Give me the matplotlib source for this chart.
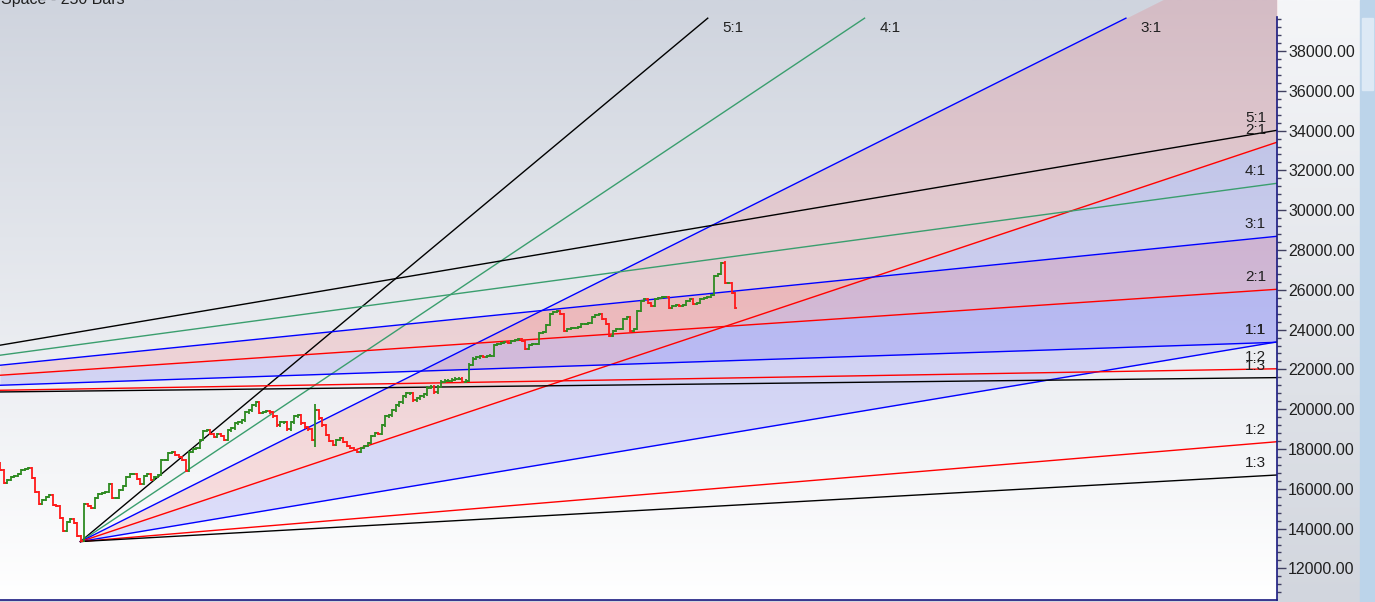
import numpy as np
import matplotlib.pyplot as plt
from matplotlib.colors import LinearSegmentedColormap
from matplotlib.patches import Rectangle

plt.rcParams['font.family'] = ['Liberation Sans', 'DejaVu Sans']

# closing prices, one per bar
closes = [
    16940, 16290, 16440, 16590, 16640, 16740, 16940, 16990, 17040, 16540,
    15840, 15240, 15440, 15590, 15690, 15190, 15140, 14540, 13890, 14340,
    14490, 14290, 13640, 13390,
    15240, 15140, 15040, 15540, 15740, 15790, 15840, 16240, 15540, 15540,
    15940, 16140, 16590, 16740, 16740, 16490, 16240, 16640, 16740, 16440,
    16590, 16690, 17440, 17440, 17790, 17840, 17690, 17590, 17440, 16890,
    17840, 17990, 18040, 18440, 18890, 18940, 18740, 18590, 18740, 18640,
    18440, 18940, 19040, 19290, 19340, 19440, 19840, 19940, 20190, 20340,
    19800, 19850, 19900, 19840, 19640, 19190, 19340, 19340, 18990, 19340,
    19640, 19690, 19290, 19090, 18990, 18440,
    19940, 19540, 19190, 18690, 18390, 18190, 18440, 18540, 18340, 18140,
    18040, 17940, 17840, 18040, 18140, 18290, 18640, 18790, 18740, 19190,
    19640, 19690, 19940, 20190, 20340, 20640, 20790, 20790, 20440, 20540,
    20640, 20740, 21090, 21140, 20840, 21140, 21390, 21440, 21440, 21490,
    21540, 21540, 21390, 21440, 22240, 22540, 22600, 22660, 22620, 22680,
    22690, 23240, 23290, 23320, 23360, 23340, 23440, 23490, 23540, 23440,
    23040, 23240, 23290, 23290, 23840, 23890, 24240, 24790, 24890, 24940,
    24790, 23940, 24040, 24090, 24090, 24140, 24290, 24290, 24340, 24640,
    24740, 24790, 24540, 24290, 23690, 23940, 24040, 24040, 24540, 24640,
    23940, 24040, 24940, 25440, 25540, 25340, 25190, 25540, 25590, 25640,
    25640, 25090, 25190, 25240, 25190, 25240, 25440, 25540, 25290, 25340,
    25540, 25590, 25640, 25740, 26690, 26790, 27340, 26340, 26340, 25840,
    25090,
]
first_open = 17300
wick = 60
spike_bars = [23, 90, 207]
spike_highs = [13700, 20250, 27450]
spike_lows = [13350, 18100, 26300]

# gann fans
fan_names = ['5:1', '4:1', '3:1', '2:1', '1:1', '1:2', '1:3']
fan_ratios = [5, 4, 3, 2, 1, 1 / 2, 1 / 3]
fan_colors = ['#000000', '#3a9e6e', '#0000ff', '#ff0000', '#0000ff', '#ff0000', '#000000']
fan1_bar, fan1_price, fan1_unit = 23, 13350, 29.35
fan2_bar, fan2_price, fan2_unit = -85, 20700, 5.92

y_ticks = list(range(12000, 38001, 2000))
title = "Space - 250 Bars"

W, H = 1375, 602
fig = plt.figure(figsize=(W / 100, H / 100), dpi=100)

# background (axis strip) gradient + scrollbar
bg = fig.add_axes([0, 0, 1, 1], zorder=-5)
bg.axis('off')
cm_strip = LinearSegmentedColormap.from_list('strip', ['#d2d6de', '#f5f6f8'])
bg.imshow(np.linspace(0, 1, 256).reshape(-1, 1), cmap=cm_strip, aspect='auto',
          extent=[0, 1, 0, 1])
bg.set_xlim(0, 1)
bg.set_ylim(1, 0)
bg.add_patch(Rectangle((1360 / W, 0), 15 / W, 1, color='#bcd4ea'))
bg.add_patch(Rectangle((1362 / W, 18 / H), 11 / W, 72 / H, color='#dde9f5'))

ax = fig.add_axes([0, 2 / H, 1277 / W, 600 / H])
xmin, xmax = 0, 1277 / 3.5
ymin, ymax = 10413, 40563
line_top = 39650

cm_plot = LinearSegmentedColormap.from_list('plot', ['#ffffff', '#cfd4de'])
ax.imshow(np.linspace(0, 1, 256).reshape(-1, 1), cmap=cm_plot, aspect='auto',
          extent=[xmin, xmax, ymin, ymax], origin='lower', zorder=0)


def draw_fan(bar0, price0, unit):
    xs = np.linspace(max(bar0, xmin), xmax, 400)
    lines = {r: price0 + unit * r * (xs - bar0) for r in fan_ratios}
    ax.fill_between(xs, lines[2], lines[3], color='#ff0000', alpha=0.11, lw=0, zorder=1)
    ax.fill_between(xs, lines[1], lines[2], color='#0000ff', alpha=0.11, lw=0, zorder=1)
    for name, r, col in zip(fan_names, fan_ratios, fan_colors):
        slope = unit * r
        x_end = min(xmax, bar0 + (line_top - price0) / slope)
        y_end = price0 + slope * (x_end - bar0)
        ax.plot([bar0, x_end], [price0, y_end], color=col, lw=1.0, zorder=2)
        if x_end < xmax:
            ax.annotate(name, (x_end, y_end), xytext=(15, -10), textcoords='offset pixels',
                        ha='left', va='center', fontsize=11, color='#202020', zorder=5)
        else:
            ax.annotate(name, (x_end, y_end), xytext=(-11, 12), textcoords='offset pixels',
                        ha='right', va='center', fontsize=11, color='#202020', zorder=5)


draw_fan(fan1_bar, fan1_price, fan1_unit)
draw_fan(fan2_bar, fan2_price, fan2_unit)

# OHLC bars
closes_a = np.array(closes, dtype=float)
opens_a = np.concatenate([[first_open], closes_a[:-1]])
highs = np.maximum(opens_a, closes_a) + wick
lows = np.minimum(opens_a, closes_a) - wick
for b, hi, lo in zip(spike_bars, spike_highs, spike_lows):
    highs[b] = max(highs[b], hi)
    lows[b] = min(lows[b], lo)
idx = np.arange(len(closes_a))
cols = np.where(closes_a >= opens_a, '#2e8b22', '#ff1a1a')
ax.vlines(idx, lows, highs, colors=cols, lw=1.3, zorder=3)
ax.hlines(opens_a, idx - 0.6, idx, colors=cols, lw=1.3, zorder=3)
ax.hlines(closes_a, idx, idx + 0.6, colors=cols, lw=1.3, zorder=3)

ax.set_xlim(xmin, xmax)
ax.set_ylim(ymin, ymax)
ax.set_xticks([])
for s in ['left', 'top', 'right']:
    ax.spines[s].set_visible(False)
ax.spines['bottom'].set_color('#1a1a80')
ax.spines['bottom'].set_linewidth(1.2)
ax.plot([1, 1], [0, (600 - 17) / 600], transform=ax.transAxes, color='#1a1a80',
        lw=1.2, clip_on=False, zorder=6)

ax.yaxis.tick_right()
ax.set_yticks(y_ticks)
ax.set_yticklabels([f"{v:.2f}" for v in y_ticks])
ax.set_yticks(np.arange(10800, 39700, 400), minor=True)
ax.tick_params(axis='y', which='major', length=6.5, width=1, color='#404060',
               labelsize=11.5, labelcolor='#202020', pad=1.5)
ax.tick_params(axis='y', which='minor', length=3, width=1, color='#404060')

fig.text(0.001, 1 - 4 / H, title, fontsize=11.5, color='#202020', va='baseline', ha='left')

fig.savefig('out.png', dpi=100)
